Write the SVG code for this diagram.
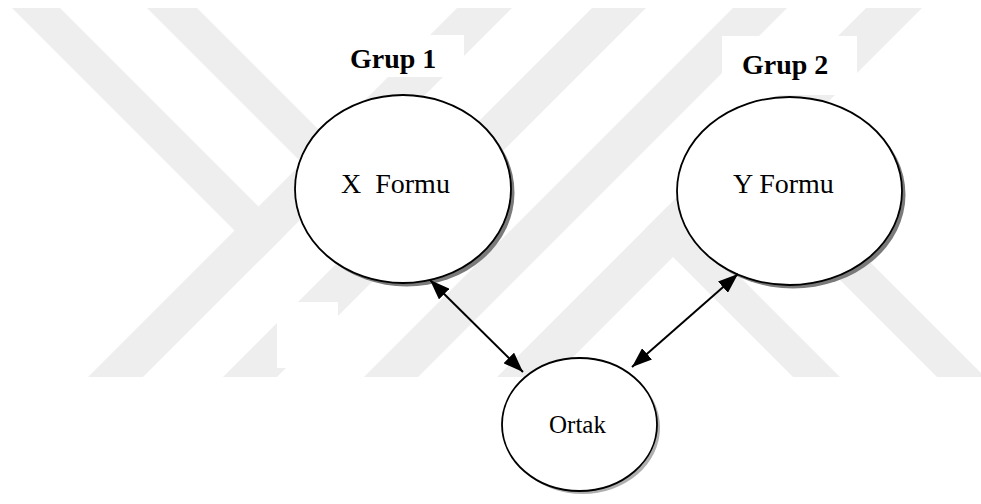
<svg xmlns="http://www.w3.org/2000/svg" width="981" height="504" viewBox="0 0 981 504">
  <style>
    .wm { fill: #eeeeee; }
    .mask { fill: #ffffff; }
    .node { fill: #ffffff; stroke: #000000; stroke-width: 1.8; }
    .shadow { fill: #7a7a7a; }
    .lbl { font-family: "Liberation Serif", "Times New Roman", serif; fill: #000000; }
    .title { font-family: "Liberation Serif", "Times New Roman", serif; font-weight: bold; font-size: 28px; fill: #000000; }
    .edge { stroke: #000000; stroke-width: 2; fill: none; marker-start: url(#arrow); marker-end: url(#arrow); }
  </style>
  <defs>
    <marker id="arrow" markerUnits="userSpaceOnUse" markerWidth="20" markerHeight="15" refX="20" refY="7.5" orient="auto-start-reverse">
      <path d="M0,0 L20,7.5 L0,15 z" fill="#000000"/>
    </marker>
  </defs>

  <rect x="0" y="0" width="981" height="504" fill="#ffffff"/>

  <g id="watermark">
    <polygon class="wm" points="88,377 143,377 512,8 457,8"/>
    <polygon class="wm" points="223,377 277,377 646,8 592,8"/>
    <polygon class="wm" points="364,377 418,377 787,8 733,8"/>
    <polygon class="wm" points="497,377 553,377 922,8 866,8"/>
    <polygon class="wm" points="12,8 60,8 286,234 262,258"/>
    <polygon class="wm" points="147,8 197,8 421.5,232.5 396.5,257.5"/>
    <polygon class="wm" points="645,229 668.5,205.5 840,377 793,377"/>
    <polygon class="wm" points="717,157 741,133 985,377 937,377"/>
    <rect class="mask" x="330" y="35" width="134" height="42"/>
    <rect class="mask" x="722" y="36" width="135" height="59"/>
    <rect class="mask" x="277" y="302" width="61" height="66"/>
  </g>

  <g id="grup1-label">
    <text class="title" x="350" y="68">Grup 1</text>
  </g>
  <g id="grup2-label">
    <text class="title" x="742" y="74">Grup 2</text>
  </g>

  <g id="x-formu">
    <ellipse class="shadow" cx="406.5" cy="192.5" rx="108" ry="94"/>
    <ellipse class="node" cx="403" cy="189" rx="108" ry="94"/>
    <text class="lbl" x="341" y="193" font-size="28" xml:space="preserve">X  Formu</text>
  </g>

  <g id="y-formu">
    <ellipse class="shadow" cx="793" cy="194.5" rx="112.5" ry="94"/>
    <ellipse class="node" cx="789.5" cy="191" rx="112.5" ry="94"/>
    <text class="lbl" x="733" y="193" font-size="28">Y Formu</text>
  </g>

  <g id="ortak">
    <ellipse class="shadow" cx="582.5" cy="427.5" rx="77.5" ry="66.5" fill-opacity="0.6"/>
    <ellipse class="node" cx="579.5" cy="424.5" rx="77.5" ry="66.5"/>
    <rect x="630" y="365" width="4" height="5" fill="#ffffff"/>
    <text class="lbl" x="549" y="433" font-size="25">Ortak</text>
  </g>

  <g id="connectors">
    <line class="edge" x1="430" y1="280" x2="523" y2="372"/>
    <line class="edge" x1="738" y1="274" x2="632" y2="367"/>
  </g>
</svg>
